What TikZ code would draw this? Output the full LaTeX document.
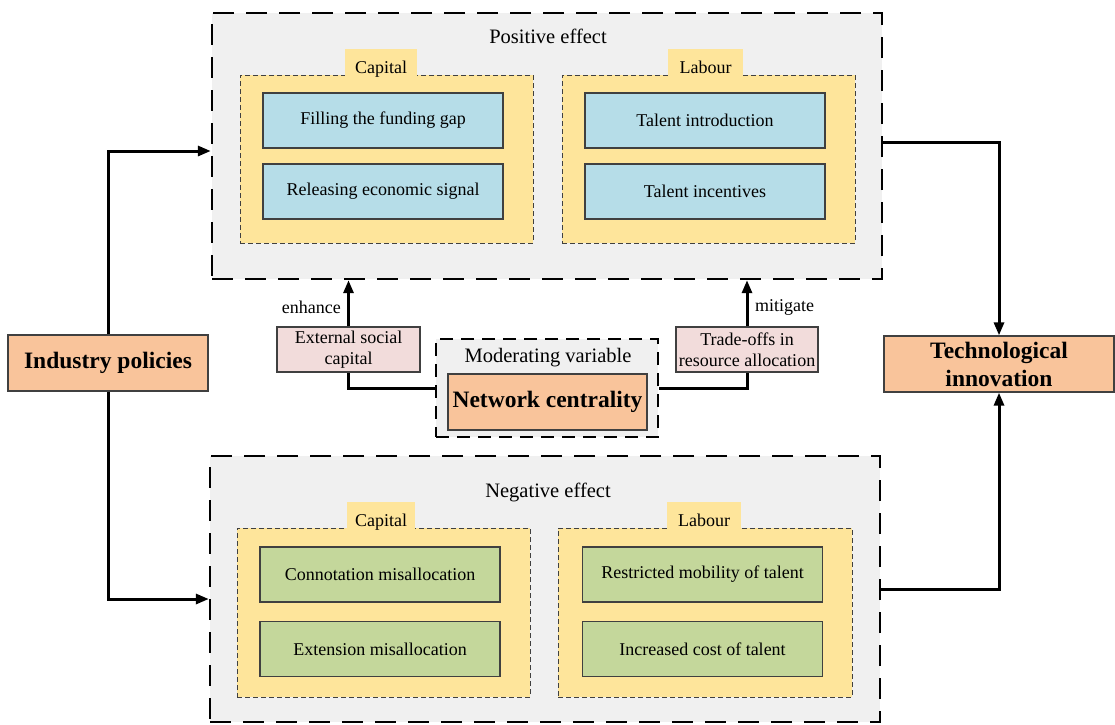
\documentclass[tikz,border=0pt]{standalone}
\usepackage{fontspec}
\setmainfont{Liberation Serif}
\usetikzlibrary{arrows.meta,calc}
\definecolor{panelgray}{HTML}{F0F0F0}
\definecolor{groupyellow}{HTML}{FEE59B}
\definecolor{itemblue}{HTML}{B6DDE8}
\definecolor{itemgreen}{HTML}{C4D79B}
\definecolor{keypeach}{HTML}{F9C49B}
\definecolor{labelpink}{HTML}{F2DCDB}
\definecolor{edgegray}{HTML}{404040}
\begin{document}
\begin{tikzpicture}[x=1pt,y=-1pt,
  panel/.style={rectangle, draw=black, line width=2.4pt, dash pattern=on 21pt off 12pt, fill=panelgray, inner sep=0pt},
  group/.style={rectangle, draw=edgegray, line width=1pt, dash pattern=on 5pt off 3pt, fill=groupyellow, inner sep=0pt, minimum width=293pt, minimum height=168pt},
  tab/.style={rectangle, fill=groupyellow, inner sep=0pt, minimum height=28pt},
  tabtext/.style={inner sep=0pt, anchor=base, font=\fontsize{18}{21}\selectfont},
  blueitem/.style={rectangle, draw=edgegray, line width=1.3pt, fill=itemblue, minimum width=240pt, minimum height=55pt, inner sep=0pt, font=\fontsize{18}{21}\selectfont},
  greenitem/.style={blueitem, fill=itemgreen},
  keybox/.style={rectangle, draw=edgegray, line width=1.3pt, fill=keypeach, inner sep=0pt, align=center, font=\bfseries\fontsize{23.5}{28}\selectfont},
  pinkbox/.style={rectangle, draw=edgegray, line width=1.3pt, fill=labelpink, inner sep=0pt, align=center, minimum height=45pt, font=\fontsize{18}{21}\selectfont},
  title/.style={inner sep=0pt, font=\fontsize{20.5}{24}\selectfont},
  smalltext/.style={inner sep=0pt, font=\fontsize{18}{21}\selectfont},
  link/.style={line width=3pt},
  conn/.style={link, -{Triangle[length=13pt,width=10pt]}}
]
\useasboundingbox (0,0) rectangle (1115,724);

% Positive effect panel
\node[panel, minimum width=670pt, minimum height=266pt] (pos) at (547,146) {};
\node[title] (postitle) at (548,36) {Positive effect};
\node[group] (pcap) at (386.5,159) {};
\node[tab, minimum width=72pt] (pcaptab) at (381,63) {};
\node[tabtext] (pcaplab) at (381,73) {Capital};
\node[blueitem] (p1) at (383,120.5) {Filling the funding gap};
\node[blueitem] (p2) at (383,191.5) {Releasing economic signal};
\node[group] (plab) at (708.5,159) {};
\node[tab, minimum width=75pt] (plabtab) at (705.5,63) {};
\node[tabtext] (plablab) at (705.5,73) {Labour};
\node[blueitem] (p3) at (705,120.5) {Talent introduction};
\node[blueitem] (p4) at (705,191.5) {Talent incentives};

% Negative effect panel
\node[panel, minimum width=670pt, minimum height=266pt] (neg) at (545,589) {};
\node[title] (negtitle) at (548,492) {Negative effect};
\node[group, minimum height=169pt] (ncap) at (383.5,612.5) {};
\node[tab, minimum width=68pt] (ncaptab) at (381,516) {};
\node[tabtext] (ncaplab) at (381,526) {Capital};
\node[greenitem] (n1) at (380,574.5) {Connotation misallocation};
\node[greenitem] (n2) at (380,649) {Extension misallocation};
\node[group, minimum width=294pt, minimum height=169pt] (nlab) at (705,612.5) {};
\node[tab, minimum width=74pt] (nlabtab) at (704,516) {};
\node[tabtext] (nlablab) at (704,526) {Labour};
\node[greenitem] (n3) at (702.5,574.5) {Restricted mobility of talent};
\node[greenitem] (n4) at (702.5,649) {Increased cost of talent};

% Key boxes
\node[keybox, minimum width=200pt, minimum height=56pt] (ip) at (108,363) {Industry policies};
\node[keybox, minimum width=230pt, minimum height=56pt] (tech) at (999,364) {Technological\\innovation};

% Moderating variable
\node[panel, line width=2pt, dash pattern=on 13pt off 8pt, minimum width=222pt, minimum height=98pt] (mod) at (547,388) {};
\node[title] (modtitle) at (548,358) {Moderating variable};
\node[keybox, minimum width=199pt, minimum height=56pt] (nc) at (547.5,402) {Network centrality};

\node[pinkbox, minimum width=143pt] (ext) at (348.5,349.5) {External social\\capital};
\node[pinkbox, minimum width=142pt] (trade) at (747,349.5) {Trade-offs in\\resource allocation};

\node[smalltext, anchor=east] (enh) at (341,307) {enhance};
\node[smalltext, anchor=west] (mit) at (755,307) {mitigate};

% Connectors
\draw[conn] (ip.north) |- ([yshift=-5pt]pos.west);
\draw[conn] (ip.south) |- ([yshift=-10pt]neg.west);
\draw[conn] ([yshift=4pt]pos.east) -| (tech.north);
\draw[conn] (neg.east) -| (tech.south);
\draw[link] (mod.west) -| (ext.south);
\draw[conn] (ext.north) -- (ext.north |- pos.south);
\draw[link] (mod.east) -| (trade.south);
\draw[conn] (trade.north) -- (trade.north |- pos.south);
\end{tikzpicture}
\end{document}
